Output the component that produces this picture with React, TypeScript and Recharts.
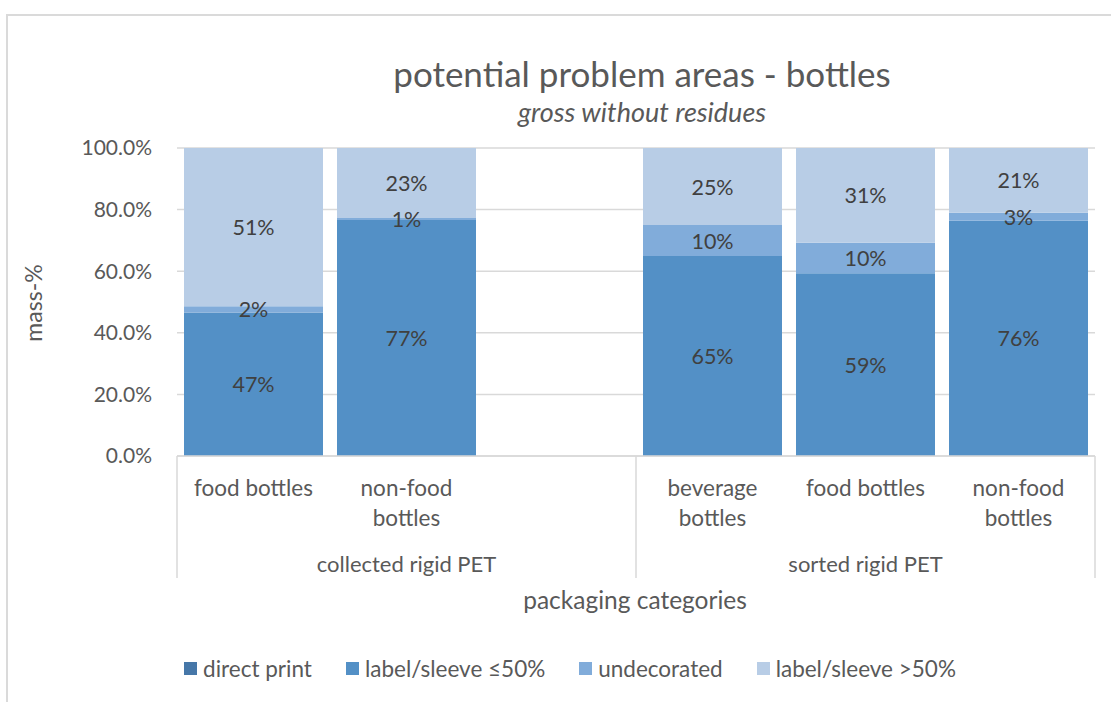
import React from 'react';
import { BarChart, Bar, XAxis, YAxis, CartesianGrid, LabelList, Legend } from 'recharts';

const categoryLabels: string[][] = [
  ['food bottles'],
  ['non-food', 'bottles'],
  [],
  ['beverage', 'bottles'],
  ['food bottles'],
  ['non-food', 'bottles'],
];
const groupLabels = ['collected rigid PET', 'sorted rigid PET'];

const directPrint: (number | null)[] = [0, 0, null, 0, 0, 0];
const labelSmall: (number | null)[] = [46.6, 76.6, null, 64.9, 59.3, 76.4];
const undecorated: (number | null)[] = [2.0, 0.7, null, 10.1, 9.9, 2.6];
const labelLarge: (number | null)[] = [51.4, 22.7, null, 25.0, 30.8, 21.0];

const yTicks = [0, 20, 40, 60, 80, 100];

const seriesNames = ['direct print', 'label/sleeve ≤50%', 'undecorated', 'label/sleeve >50%'];
const seriesColors = ['#4677A8', '#5390C6', '#81ACDA', '#B8CDE6'];

const data = categoryLabels.map((_, i) => ({
  key: String(i),
  directPrint: directPrint[i],
  labelSmall: labelSmall[i],
  undecorated: undecorated[i],
  labelLarge: labelLarge[i],
}));

const FONT = 'Lato, "Noto Sans", sans-serif';
const TEXT = '#595959';
const GRID = '#D9D9D9';

const W = 1111;
const H = 702;
const PLOT_LEFT = 177;
const PLOT_RIGHT = 1095;
const PLOT_TOP = 148;
const PLOT_BOTTOM = 456;
const SLOT = (PLOT_RIGHT - PLOT_LEFT) / categoryLabels.length;

const CategoryTick = (props: any) => {
  const { x, y, index } = props;
  const lines = categoryLabels[index] || [];
  const half = SLOT / 2;
  const els: React.ReactNode[] = [];
  lines.forEach((ln, li) => {
    els.push(
      <text key={'l' + li} x={x} y={y + 31 + li * 30} textAnchor="middle" dominantBaseline="central"
        fill={TEXT} fontSize={22.5} fontFamily={FONT}>{ln}</text>
    );
  });
  if (index === 1 || index === 4) {
    els.push(
      <text key="g" x={x} y={y + 107} textAnchor="middle" dominantBaseline="central"
        fill={TEXT} fontSize={22} fontFamily={FONT}>{groupLabels[index === 1 ? 0 : 1]}</text>
    );
  }
  if (index === 0 || index === 3) {
    els.push(<line key="s" x1={x - half} x2={x - half} y1={y} y2={y + 122} stroke={GRID} strokeWidth={1.5} />);
  }
  if (index === 5) {
    els.push(<line key="e" x1={x + half} x2={x + half} y1={y} y2={y + 122} stroke={GRID} strokeWidth={1.5} />);
  }
  return <g>{els}</g>;
};

const SegLabel = (props: any) => {
  const { x, y, width, height, value } = props;
  if (value == null || value <= 0) return null;
  return (
    <text x={x + width / 2} y={y + height / 2} textAnchor="middle" dominantBaseline="central"
      fill="#404040" fontSize={21.5} fontFamily={FONT}>{Math.round(value) + '%'}</text>
  );
};

const LegendContent = () => (
  <div style={{ display: 'flex', justifyContent: 'center', fontFamily: FONT, fontSize: 22.5, color: TEXT }}>
    {seriesNames.map((n, i) => (
      <div key={n} style={{ display: 'flex', alignItems: 'center', marginRight: i < seriesNames.length - 1 ? 34 : 0 }}>
        <span style={{ display: 'inline-block', width: 13, height: 13, background: seriesColors[i], marginRight: 6 }} />
        <span>{n}</span>
      </div>
    ))}
  </div>
);

const YLabel = () => (
  <text x={33} y={303} transform="rotate(-90 33 303)" textAnchor="middle" dominantBaseline="central"
    fill={TEXT} fontSize={23} fontFamily={FONT}>mass-%</text>
);

export default function App() {
  const keys = ['directPrint', 'labelSmall', 'undecorated', 'labelLarge'];
  return (
    <div style={{ position: 'absolute', left: 0, top: 0, width: W, height: H, overflow: 'hidden', background: '#fff' }}>
      <div style={{ position: 'absolute', left: 6, top: 14, width: 1200, height: 800, border: '2px solid #DADADA', boxSizing: 'border-box' }} />
      <div style={{ position: 'absolute', left: 0, width: 1284, top: 52, textAlign: 'center', fontFamily: FONT, fontSize: 35, color: TEXT, lineHeight: '42px' }}>
        potential problem areas - bottles
      </div>
      <div style={{ position: 'absolute', left: 0, width: 1284, top: 96, textAlign: 'center', fontFamily: FONT, fontSize: 27, fontStyle: 'italic', color: TEXT, lineHeight: '32px' }}>
        gross without residues
      </div>
      <div style={{ position: 'absolute', left: 0, width: 1270, top: 585, textAlign: 'center', fontFamily: FONT, fontSize: 24.5, color: TEXT, lineHeight: '30px' }}>
        packaging categories
      </div>
      <div style={{ position: 'absolute', left: 0, top: 0 }}>
        <BarChart width={W} height={H} data={data}
          margin={{ top: PLOT_TOP, right: W - PLOT_RIGHT, left: 0, bottom: H - PLOT_BOTTOM - 125 }}
          barCategoryGap={7}>
          <CartesianGrid vertical={false} stroke={GRID} strokeWidth={1.5} />
          <XAxis dataKey="key" interval={0} tickLine={false} tickSize={0} tickMargin={0} height={125}
            axisLine={{ stroke: GRID, strokeWidth: 1.5 }} tick={<CategoryTick />} />
          <YAxis width={PLOT_LEFT} domain={[0, 100]} ticks={yTicks} axisLine={false} tickLine={false}
            tickSize={0} tickMargin={25} tickFormatter={(v: number) => v.toFixed(1) + '%'}
            tick={{ fill: TEXT, fontSize: 21, fontFamily: FONT }}
            label={<YLabel />} />
          <Legend verticalAlign="middle" align="center" layout="horizontal" content={<LegendContent />}
            wrapperStyle={{ top: 655, left: 0, width: 1140, height: 30 }} />
          {keys.map((k, i) => (
            <Bar key={k} dataKey={k} name={seriesNames[i]} stackId="s" fill={seriesColors[i]} isAnimationActive={false}>
              {i > 0 ? <LabelList dataKey={k} content={<SegLabel />} /> : null}
            </Bar>
          ))}
        </BarChart>
      </div>
    </div>
  );
}
